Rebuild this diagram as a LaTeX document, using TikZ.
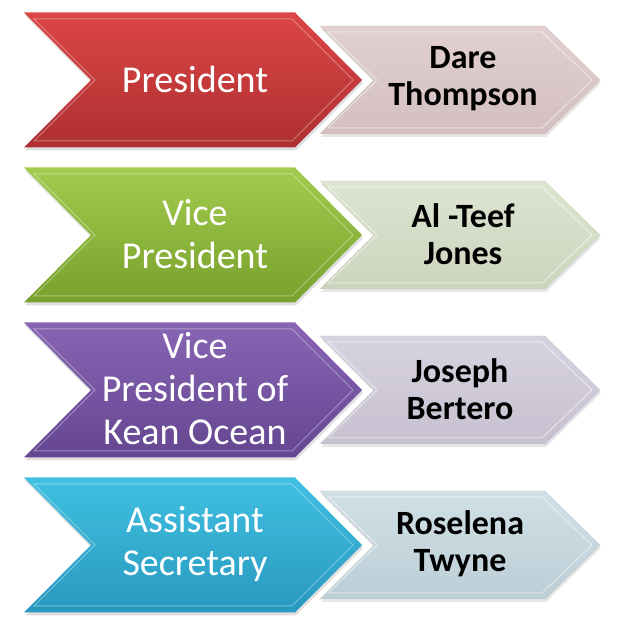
\documentclass[tikz,border=0pt]{standalone}
\usepackage{fontspec}
\setmainfont{Carlito}
\usetikzlibrary{shadows}
\definecolor{redT}{HTML}{DC4646}
\definecolor{redB}{HTML}{AE2F31}
\definecolor{greT}{HTML}{A2CC4E}
\definecolor{greB}{HTML}{78A02C}
\definecolor{purT}{HTML}{8765B4}
\definecolor{purB}{HTML}{654690}
\definecolor{cyaT}{HTML}{40C0E2}
\definecolor{cyaB}{HTML}{2899BE}
\definecolor{lredT}{HTML}{E2D0D0}
\definecolor{lredB}{HTML}{D3BFBF}
\definecolor{lgreT}{HTML}{DDE4D0}
\definecolor{lgreB}{HTML}{CCD4BE}
\definecolor{lpurT}{HTML}{D8D3E0}
\definecolor{lpurB}{HTML}{C6C0D0}
\definecolor{lcyaT}{HTML}{D0E0E6}
\definecolor{lcyaB}{HTML}{BCCED6}
\tikzset{
  bigchev/.style={drop shadow={shadow xshift=1pt,shadow yshift=-3pt,opacity=0.25}},
  smallchev/.style={drop shadow={shadow xshift=1pt,shadow yshift=-3pt,opacity=0.2}},
  bevel/.style={draw=white,draw opacity=0.35,line width=1pt},
  bevelsm/.style={draw=white,draw opacity=0.5,line width=1pt},
  roletext/.style={text=white,font=\fontsize{38}{43}\selectfont,align=center},
  nametext/.style={text=black,font=\bfseries\fontsize{34}{37}\selectfont,align=center}
}
\begin{document}
\begin{tikzpicture}[x=1pt,y=1pt]
\useasboundingbox (0,0) rectangle (627,640);
\foreach \c/\t/\b/\lt/\lb/\k in {560/redT/redB/lredT/lredB/1,405/greT/greB/lgreT/lgreB/2,250/purT/purB/lpurT/lpurB/3,95/cyaT/cyaB/lcyaT/lcyaB/4}{
  % small chevron (behind)
  \shade[smallchev,top color=\lt,bottom color=\lb,draw=\lb!80!black,draw opacity=0.3]
    (320,\c+54) -- (545,\c+54) -- (600,\c) -- (545,\c-54) -- (320,\c-54) -- (374,\c) -- cycle;
  \draw[bevelsm] (328,\c+48) -- (542,\c+48) -- (592,\c) -- (542,\c-48) -- (328,\c-48) -- (377,\c) -- cycle;
  % big chevron
  \shade[bigchev,top color=\t,bottom color=\b]
    (24,\c+67.5) -- (295,\c+67.5) -- (362,\c) -- (295,\c-67.5) -- (24,\c-67.5) -- (91,\c) -- cycle;
  \draw[bevel] (34,\c+61) -- (292,\c+61) -- (353,\c) -- (292,\c-61) -- (34,\c-61) -- (95,\c) -- cycle;
}
\node[roletext] (r1) at (195,561) {President};
\node[roletext] (r2) at (195,406) {Vice\\President};
\node[roletext] (r3) at (195,251) {Vice\\President of\\Kean Ocean};
\node[roletext] (r4) at (195,96) {Assistant\\Secretary};
\node[nametext] (n1) at (463,561) {Dare\\Thompson};
\node[nametext] (n2) at (463,406) {Al -Teef\\Jones};
\node[nametext] (n3) at (460,251) {Joseph\\Bertero};
\node[nametext] (n4) at (460,96) {Roselena\\Twyne};
\end{tikzpicture}
\end{document}
